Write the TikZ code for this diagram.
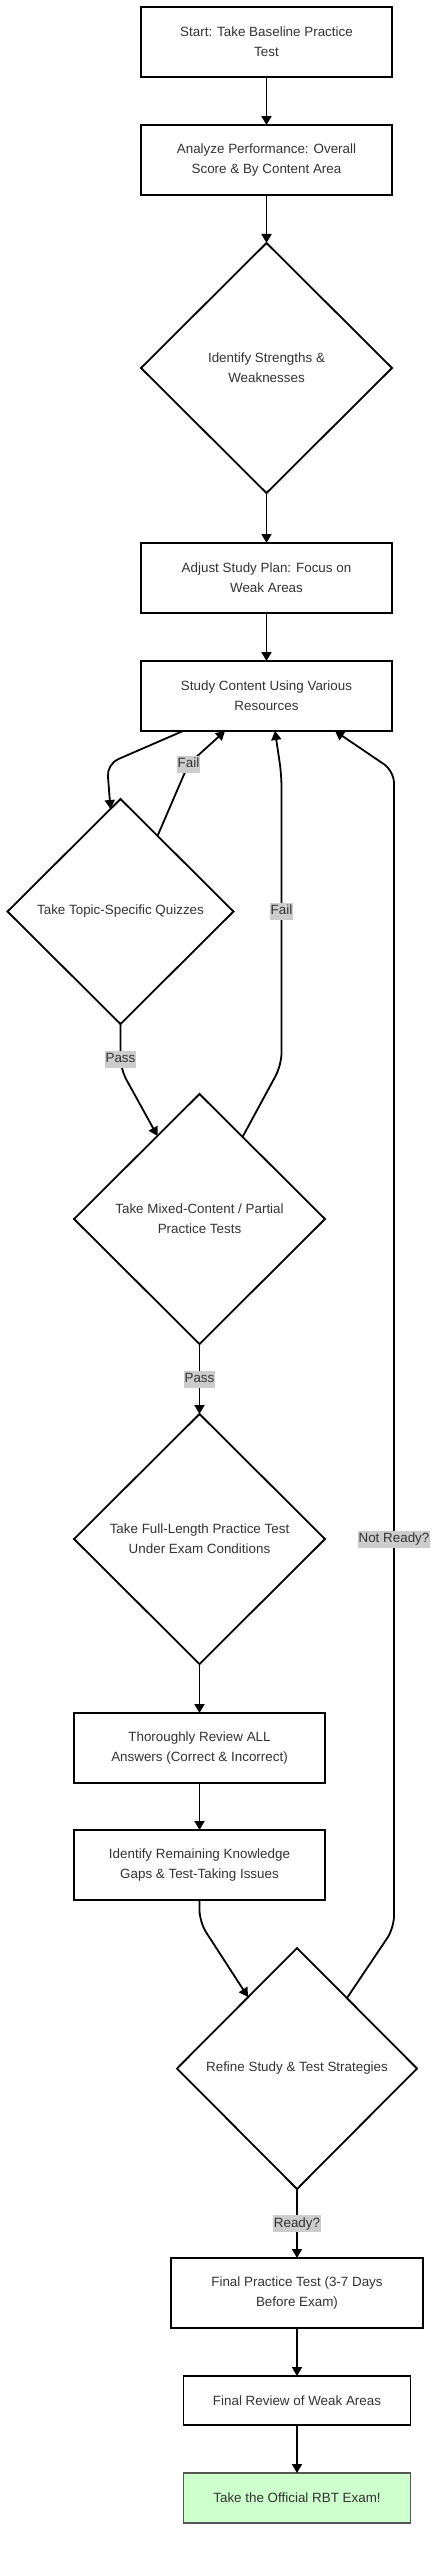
\documentclass[tikz,border=0pt]{standalone}
\usepackage{fontspec}
\setmainfont{Liberation Sans}
\usepackage{xcolor}
\usetikzlibrary{positioning, arrows.meta, shapes.geometric}
\definecolor{txtgray}{HTML}{333333}
\definecolor{lblgray}{HTML}{CCCCCC}
\definecolor{examgreen}{HTML}{CCFFCC}
\definecolor{examline}{HTML}{555555}

\begin{document}
\begin{tikzpicture}[
  font=\fontsize{13.4}{20}\selectfont,
  box/.style={rectangle, draw=black, fill=white, line width=1.8pt, text=txtgray,
              minimum width=251pt, minimum height=70pt, align=center,
              inner sep=2pt, outer sep=0pt},
  decision/.style={diamond, aspect=1, draw=black, fill=white, line width=1.8pt,
                   text=txtgray, align=center, inner sep=0pt, outer sep=0pt},
  finish/.style={box, draw=examline, fill=examgreen, minimum width=227pt,
                 minimum height=50pt},
  lbl/.style={fill=lblgray, text=txtgray, sharp corners, inner xsep=0.8pt,
              inner ysep=2pt, text height=10pt, text depth=3pt},
  arr/.style={-{Triangle[length=9pt, width=10pt]}, line width=1.8pt,
              rounded corners=12pt}
]
\useasboundingbox (0,0) rectangle (443pt,-2560pt);
\node[box] (start) at (266.5pt,-42pt) {Start: Take Baseline Practice\\Test};
\node[box, below=48pt of start] (analyze) {Analyze Performance: Overall\\Score \& By Content Area};
\node[decision, minimum width=251pt, minimum height=250pt, below=48pt of analyze] (ident) {Identify Strengths \&\\Weaknesses};
\node[box, below=50pt of ident] (adjust) {Adjust Study Plan: Focus on\\Weak Areas};
\node[box, below=48pt of adjust] (study) {Study Content Using Various\\Resources};
\node[decision, minimum width=226pt, minimum height=225pt, below=68pt of study, xshift=-146pt] (quiz) {Take Topic-Specific Quizzes};
\node[decision, minimum width=251pt, minimum height=250pt, below=70pt of quiz, xshift=79pt] (mixed) {Take Mixed-Content / Partial\\Practice Tests};
\node[decision, minimum width=251pt, minimum height=250pt, below=70pt of mixed] (full) {Take Full-Length Practice Test\\Under Exam Conditions};
\node[box, below=49pt of full] (review) {Thoroughly Review ALL\\Answers (Correct \& Incorrect)};
\node[box, below=47pt of review] (gaps) {Identify Remaining Knowledge\\Gaps \& Test-Taking Issues};
\node[decision, minimum width=240pt, minimum height=241pt, below=48pt of gaps, xshift=97.5pt] (refine) {Refine Study \& Test Strategies};
\node[box, minimum width=252pt, below=69pt of refine] (final) {Final Practice Test (3-7 Days\\Before Exam)};
\node[box, minimum width=227pt, minimum height=49pt, below=48pt of final] (weak) {Final Review of Weak Areas};
\node[finish, below=48pt of weak] (exam) {Take the Official RBT Exam!};

\draw[arr] (start)   -- (analyze);
\draw[arr] (analyze) -- (ident);
\draw[arr] (ident)   -- (adjust);
\draw[arr] (adjust)  -- (study);
% quiz loop
\draw[arr] ([xshift=42pt]study.south west) -- ++(-76pt,-33pt) -- ([shift={(-10pt,-10pt)}]quiz.north);
\draw[arr] ([shift={(37pt,-37pt)}]quiz.north) -- ++(31pt,72pt) node[lbl] {Fail} -- ([xshift=84pt]study.south west);
\draw[arr] (quiz.south) -- node[lbl, pos=0.78] {Pass} ++(0,-45pt) -- ([shift={(-42pt,-42pt)}]mixed.north);
% mixed test loop
\draw[arr] ([shift={(43pt,-43pt)}]mixed.north) -- ++(39pt,72pt) -- node[lbl, pos=0.53] {Fail} ++(0,290pt) -- ([xshift=134pt]study.south west);
\draw[arr] (mixed) -- node[lbl] {Pass} (full);
\draw[arr] (full)   -- (review);
\draw[arr] (review) -- (gaps);
\draw[arr] (gaps.south) -- ++(0,-22pt) -- ([shift={(-49pt,-49pt)}]refine.north);
% back to studying
\draw[arr] ([shift={(50pt,-50pt)}]refine.north) -- ++(47pt,70pt) -- node[lbl, pos=0.336] {Not Ready?} ++(0,1157pt) -- ([xshift=194pt]study.south west);
\draw[arr] (refine) -- node[lbl] {Ready?} (final);
\draw[arr] (final)  -- (weak);
\draw[arr] (weak)   -- (exam);
\end{tikzpicture}
\end{document}
